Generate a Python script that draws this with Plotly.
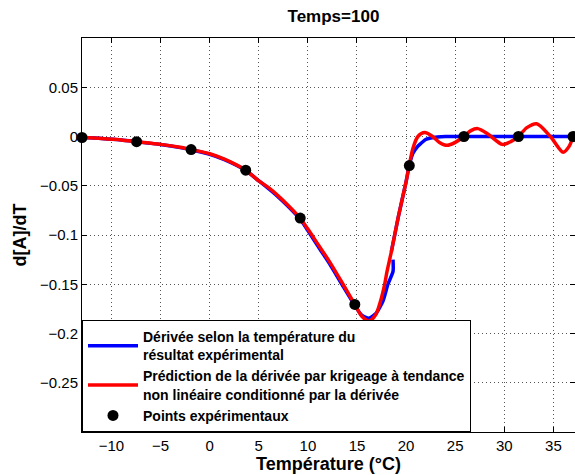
import plotly.graph_objects as go

# Experimental derivative (blue); None splits the short glitch near 18.7 °C
blue_x = [-13, -11, -9, -7.44, -5, -3, -1.89, 0, 1.5, 3.67, 5, 6, 7, 8, 9.22, 10, 11, 12.2,
          13.58, 14.78, 15.45, 16.22, 16.9, 17.65, 18.15, 18.67, 18.67, None, 18.5, 19.2, 20.0,
          20.33, 20.7, 21.1, 21.4, 22.0, 22.5, 23.2, 24, 26, 28, 30, 32, 34, 36, 37]
blue_y = [-0.001, -0.002, -0.0035, -0.0053, -0.0082, -0.0113, -0.0135, -0.018, -0.0235,
          -0.0345, -0.045, -0.053, -0.0615, -0.071, -0.084, -0.0955, -0.111, -0.129,
          -0.152, -0.1715, -0.181, -0.1845, -0.180, -0.167, -0.150, -0.137, -0.125, None,
          -0.117, -0.082, -0.046, -0.029, -0.017, -0.011, -0.008, -0.003, -0.0015,
          -0.0005, 0, 0, 0, 0, 0, 0, 0, 0]

# Kriging prediction (red)
red_x = [-13, -11, -9, -7.44, -5, -3, -1.89, 0, 1.5, 3.67, 5, 6, 7, 8, 9.22, 10, 11, 12.2,
         13.58, 14.78, 15.45, 16.22, 16.9, 17.4, 17.82, 18.06, 18.5, 19.2, 20.0, 20.33,
         20.7, 21.2, 21.9, 22.7, 23.4, 24.2, 25.0, 25.89, 26.6, 27.3, 28.4, 29.8, 30.7,
         31.44, 32.3, 33.3, 34.7, 36.0, 36.6, 37]
red_y = [-0.001, -0.002, -0.0035, -0.0053, -0.008, -0.011, -0.0133, -0.0175, -0.023,
         -0.0342, -0.045, -0.052, -0.0605, -0.070, -0.083, -0.094, -0.109, -0.127,
         -0.150, -0.1705, -0.182, -0.1874, -0.181, -0.167, -0.150, -0.137, -0.117,
         -0.082, -0.046, -0.029, -0.012, 0.000, 0.004, 0.0, -0.006, -0.009, -0.006,
         0.0, 0.006, 0.008, 0.002, -0.008, -0.005, 0.0, 0.009, 0.013, 0.0, -0.016,
         -0.010, 0.0]

# Experimental points
pts_x = [-13, -7.44, -1.89, 3.67, 9.22, 14.78, 20.33, 25.89, 31.44, 37]
pts_y = [-0.001, -0.0053, -0.0133, -0.0342, -0.0828, -0.1705, -0.0295, 0, 0, 0]

x_ticks = [-10, -5, 0, 5, 10, 15, 20, 25, 30, 35]
y_ticks = [-0.25, -0.2, -0.15, -0.1, -0.05, 0, 0.05]
y_tick_text = ["\u22120.25", "\u22120.2", "\u22120.15", "\u22120.1", "\u22120.05", "0", "0.05"]
x_tick_text = ["\u221210", "\u22125", "0", "5", "10", "15", "20", "25", "30", "35"]

FONT = "Liberation Sans, Arial, sans-serif"

fig = go.Figure()
fig.add_trace(go.Scatter(
    x=blue_x, y=blue_y, mode="lines", connectgaps=False,
    line=dict(color="#0000FF", width=3.5, shape="spline", smoothing=0.6),
    name="Dérivée selon la température du<br>résultat expérimental"))
fig.add_trace(go.Scatter(
    x=red_x, y=red_y, mode="lines",
    line=dict(color="#FF0000", width=3.5, shape="spline", smoothing=0.8),
    name="Prédiction de la dérivée par krigeage à tendance<br>non linéaire conditionné par la dérivée"))
fig.add_trace(go.Scatter(
    x=pts_x, y=pts_y, mode="markers",
    marker=dict(color="black", size=11),
    name="Points expérimentaux", cliponaxis=False))

axis_common = dict(
    showline=True, linecolor="black", linewidth=1, mirror="ticks",
    ticks="inside", ticklen=5, tickcolor="black",
    showgrid=True, gridcolor="#555555", gridwidth=1, griddash="1px,3px",
    zeroline=False, tickfont=dict(family=FONT, size=15, color="black"),
    automargin=False,
)

fig.update_xaxes(range=[-13, 37.2], tickvals=x_ticks, ticktext=x_tick_text,
                 title=dict(text="Température (°C)",
                            font=dict(family=FONT, size=18, color="black", weight="bold"),
                            standoff=2),
                 **axis_common)
fig.update_yaxes(range=[-0.3, 0.1], tickvals=y_ticks, ticktext=y_tick_text,
                 title=dict(text="d[A]/dT",
                            font=dict(family=FONT, size=18, color="black", weight="bold"),
                            standoff=8),
                 **axis_common)

fig.update_layout(
    width=575, height=475,
    margin=dict(l=82, r=0, t=38, b=43),
    plot_bgcolor="white", paper_bgcolor="white",
    title=dict(text="Temps=100", x=0.51, xref="paper", y=1 - 16 / 475, yanchor="middle",
               xanchor="center",
               font=dict(family=FONT, size=17, color="black", weight="bold")),
    legend=dict(x=0, y=0, xanchor="left", yanchor="bottom", bgcolor="white",
                bordercolor="black", borderwidth=1, tracegroupgap=0, itemwidth=50,
                font=dict(family=FONT, size=14, color="black", weight="bold")),
    showlegend=True,
)

fig.write_html("out.html", config={"displayModeBar": False},
               post_script="document.body.style.margin='0';document.body.style.overflow='hidden';")
